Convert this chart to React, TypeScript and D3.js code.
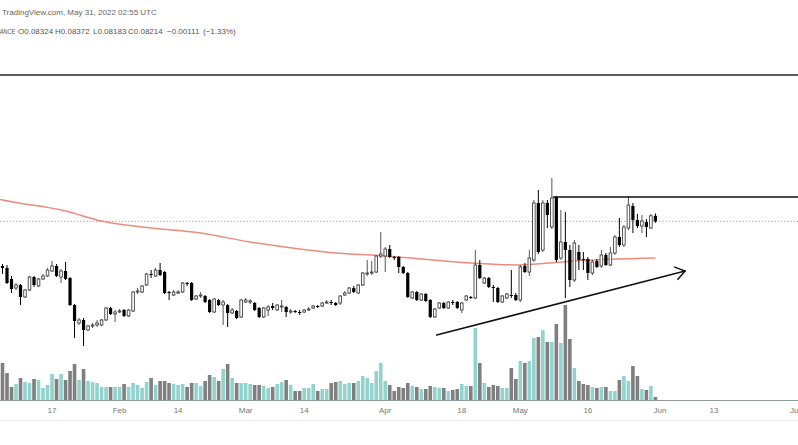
import React from 'react';
import * as d3 from 'd3';

// ---------- data (daily, starting 2022-01-06) ----------
const START_DATE = '2022-01-06';

const openP = [
  0.0732, 0.0728, 0.0706, 0.0688, 0.0694, 0.0670, 0.0684, 0.0710, 0.0692, 0.0706,
  0.0712, 0.0722, 0.0732, 0.0710, 0.0722, 0.0708, 0.0654, 0.0618, 0.0624, 0.0604,
  0.0612, 0.0614, 0.0614, 0.0624, 0.0648, 0.0636, 0.0640, 0.0644, 0.0632, 0.0642,
  0.0680, 0.0680, 0.0694, 0.0716, 0.0712, 0.0724, 0.0720, 0.0680, 0.0674, 0.0678,
  0.0680, 0.0698, 0.0698, 0.0666, 0.0672, 0.0672, 0.0664, 0.0640, 0.0664, 0.0654,
  0.0654, 0.0638, 0.0642, 0.0630, 0.0660, 0.0660, 0.0658, 0.0648, 0.0630, 0.0644,
  0.0652, 0.0644, 0.0650, 0.0650, 0.0640, 0.0642, 0.0640, 0.0640, 0.0644, 0.0648,
  0.0652, 0.0652, 0.0658, 0.0660, 0.0658, 0.0658, 0.0674, 0.0678, 0.0688, 0.0678,
  0.0694, 0.0716, 0.0718, 0.0720, 0.0752, 0.0752, 0.0766, 0.0750, 0.0750, 0.0730,
  0.0718, 0.0668, 0.0680, 0.0664, 0.0676, 0.0664, 0.0630, 0.0648, 0.0658, 0.0648,
  0.0660, 0.0660, 0.0644, 0.0664, 0.0670, 0.0668, 0.0734, 0.0698, 0.0708, 0.0690,
  0.0688, 0.0660, 0.0668, 0.0674, 0.0674, 0.0664, 0.0732, 0.0720, 0.0744, 0.0858,
  0.0764, 0.0858, 0.0810, 0.0870, 0.0748, 0.0780, 0.0764, 0.0704, 0.0760, 0.0746,
  0.0746, 0.0718, 0.0742, 0.0732, 0.0754, 0.0734, 0.0758, 0.0790, 0.0774, 0.0808,
  0.0852, 0.0824, 0.0812, 0.0820, 0.0808, 0.08324,
];

const highP = [
  0.0736, 0.0734, 0.0712, 0.0698, 0.0696, 0.0686, 0.0712, 0.0712, 0.0708, 0.0716,
  0.0728, 0.0742, 0.0736, 0.0726, 0.0740, 0.0710, 0.0656, 0.0628, 0.0628, 0.0614,
  0.0618, 0.0624, 0.0626, 0.0650, 0.0650, 0.0644, 0.0646, 0.0646, 0.0646, 0.0682,
  0.0688, 0.0694, 0.0718, 0.0724, 0.0728, 0.0738, 0.0722, 0.0682, 0.0684, 0.0684,
  0.0700, 0.0700, 0.0700, 0.0674, 0.0680, 0.0674, 0.0666, 0.0668, 0.0666, 0.0664,
  0.0656, 0.0648, 0.0644, 0.0666, 0.0668, 0.0666, 0.0660, 0.0650, 0.0650, 0.0654,
  0.0658, 0.0656, 0.0664, 0.0652, 0.0646, 0.0644, 0.0644, 0.0646, 0.0650, 0.0654,
  0.0654, 0.0660, 0.0664, 0.0664, 0.0660, 0.0674, 0.0682, 0.0690, 0.0692, 0.0696,
  0.0720, 0.0744, 0.0742, 0.0754, 0.0800, 0.0770, 0.0774, 0.0752, 0.0752, 0.0732,
  0.0720, 0.0682, 0.0682, 0.0678, 0.0678, 0.0666, 0.0648, 0.0660, 0.0660, 0.0662,
  0.0664, 0.0662, 0.0660, 0.0674, 0.0672, 0.0764, 0.0744, 0.0710, 0.0710, 0.0694,
  0.0690, 0.0674, 0.0678, 0.0724, 0.0678, 0.0734, 0.0738, 0.0764, 0.0864, 0.0884,
  0.0864, 0.0864, 0.0908, 0.0872, 0.0844, 0.0840, 0.0774, 0.0784, 0.0774, 0.0760,
  0.0750, 0.0744, 0.0746, 0.0764, 0.0758, 0.0770, 0.0794, 0.0828, 0.0814, 0.0872,
  0.0858, 0.0836, 0.0834, 0.0826, 0.0836, 0.08372,
];

const lowP = [
  0.0716, 0.0696, 0.0678, 0.0684, 0.0654, 0.0668, 0.0682, 0.0690, 0.0690, 0.0704,
  0.0710, 0.0720, 0.0710, 0.0698, 0.0704, 0.0652, 0.0588, 0.0614, 0.0572, 0.0602,
  0.0608, 0.0610, 0.0612, 0.0622, 0.0634, 0.0620, 0.0638, 0.0630, 0.0630, 0.0640,
  0.0676, 0.0678, 0.0692, 0.0708, 0.0710, 0.0712, 0.0676, 0.0664, 0.0672, 0.0676,
  0.0678, 0.0692, 0.0662, 0.0664, 0.0668, 0.0658, 0.0638, 0.0638, 0.0652, 0.0614,
  0.0610, 0.0636, 0.0626, 0.0628, 0.0658, 0.0656, 0.0642, 0.0628, 0.0628, 0.0632,
  0.0644, 0.0642, 0.0640, 0.0630, 0.0636, 0.0638, 0.0634, 0.0638, 0.0642, 0.0646,
  0.0648, 0.0650, 0.0656, 0.0654, 0.0652, 0.0654, 0.0672, 0.0676, 0.0678, 0.0676,
  0.0692, 0.0712, 0.0714, 0.0718, 0.0748, 0.0720, 0.0748, 0.0744, 0.0718, 0.0716,
  0.0668, 0.0666, 0.0662, 0.0662, 0.0660, 0.0628, 0.0628, 0.0646, 0.0646, 0.0646,
  0.0654, 0.0646, 0.0638, 0.0662, 0.0666, 0.0666, 0.0706, 0.0696, 0.0688, 0.0660,
  0.0658, 0.0658, 0.0666, 0.0668, 0.0662, 0.0660, 0.0718, 0.0712, 0.0740, 0.0756,
  0.0760, 0.0808, 0.0806, 0.0740, 0.0744, 0.0668, 0.0690, 0.0700, 0.0724, 0.0724,
  0.0704, 0.0714, 0.0728, 0.0728, 0.0732, 0.0732, 0.0754, 0.0770, 0.0770, 0.0804,
  0.0798, 0.0808, 0.0798, 0.0790, 0.0806, 0.08183,
];

const closeP = [
  0.0728, 0.0698, 0.0686, 0.0694, 0.0670, 0.0684, 0.0710, 0.0694, 0.0706, 0.0712,
  0.0724, 0.0732, 0.0712, 0.0722, 0.0706, 0.0654, 0.0622, 0.0624, 0.0604, 0.0612,
  0.0614, 0.0618, 0.0624, 0.0648, 0.0636, 0.0640, 0.0642, 0.0632, 0.0644, 0.0680,
  0.0682, 0.0692, 0.0716, 0.0714, 0.0724, 0.0714, 0.0678, 0.0678, 0.0680, 0.0680,
  0.0698, 0.0696, 0.0664, 0.0672, 0.0674, 0.0660, 0.0640, 0.0666, 0.0654, 0.0660,
  0.0638, 0.0644, 0.0628, 0.0664, 0.0664, 0.0662, 0.0644, 0.0630, 0.0648, 0.0650,
  0.0648, 0.0654, 0.0652, 0.0640, 0.0642, 0.0640, 0.0638, 0.0644, 0.0646, 0.0652,
  0.0650, 0.0658, 0.0660, 0.0658, 0.0654, 0.0672, 0.0678, 0.0688, 0.0680, 0.0694,
  0.0718, 0.0718, 0.0720, 0.0752, 0.0756, 0.0766, 0.0750, 0.0748, 0.0730, 0.0718,
  0.0670, 0.0680, 0.0664, 0.0676, 0.0662, 0.0630, 0.0646, 0.0658, 0.0648, 0.0660,
  0.0658, 0.0648, 0.0658, 0.0672, 0.0668, 0.0734, 0.0708, 0.0708, 0.0690, 0.0688,
  0.0660, 0.0672, 0.0676, 0.0672, 0.0664, 0.0730, 0.0720, 0.0748, 0.0858, 0.0760,
  0.0858, 0.0834, 0.0868, 0.0744, 0.0780, 0.0764, 0.0704, 0.0778, 0.0744, 0.0744,
  0.0718, 0.0740, 0.0730, 0.0754, 0.0734, 0.0758, 0.0790, 0.0774, 0.0810, 0.0854,
  0.0824, 0.0812, 0.0822, 0.0810, 0.08325, 0.08214,
];

const volume = [
  3.7, 2.7, 1.3, 1.6, 2.2, 1.8, 1.7, 2.1, 2.0, 1.2,
  1.5, 2.6, 2.1, 2.6, 2.0, 2.9, 3.6, 2.0, 3.1, 1.9,
  1.8, 1.7, 1.3, 1.3, 1.3, 1.3, 1.3, 1.6, 1.3, 1.7,
  1.5, 1.2, 1.8, 2.2, 1.5, 1.9, 1.9, 1.7, 1.6, 1.5,
  1.6, 1.3, 1.7, 1.7, 1.4, 1.9, 2.5, 2.3, 1.9, 3.1,
  3.6, 2.2, 1.7, 1.7, 1.7, 1.6, 1.5, 1.5, 1.4, 1.2,
  1.3, 1.6, 1.8, 2.0, 1.5, 0.9, 0.9, 1.2, 1.2, 1.6,
  0.9, 1.1, 1.1, 1.7, 1.8, 1.9, 1.6, 1.7, 1.7, 1.9,
  2.4, 2.2, 1.7, 2.9, 3.7, 1.9, 1.5, 0.9, 1.3, 1.2,
  1.7, 1.4, 1.3, 1.1, 1.1, 1.4, 1.3, 1.2, 1.2, 0.9,
  1.0, 1.1, 1.6, 1.4, 1.4, 7.2, 3.7, 1.7, 1.3, 1.5,
  1.4, 1.2, 1.2, 3.2, 2.1, 3.9, 3.7, 3.9, 6.2, 6.3,
  7.0, 5.8, 5.8, 7.6, 5.7, 9.5, 6.1, 3.2, 1.9, 1.6,
  1.5, 1.3, 1.2, 1.3, 1.3, 0.9, 0.9, 2.0, 2.4, 1.9,
  3.4, 2.4, 1.1, 1.0, 1.4, 0.3,
];

// moving average
const maDates = [
  '2022-01-05', '2022-01-06', '2022-01-20', '2022-01-28', '2022-02-06', '2022-02-19',
  '2022-03-02', '2022-03-13', '2022-03-21', '2022-03-29', '2022-04-04', '2022-04-20',
  '2022-05-01', '2022-05-06', '2022-05-13', '2022-05-31',
];
const maValues = [
  0.0866, 0.0864, 0.0842, 0.0822, 0.0810, 0.0798,
  0.0780, 0.0766, 0.0758, 0.0754, 0.0750, 0.0738,
  0.0734, 0.0737, 0.0742, 0.0748,
];

// x axis ticks
const tickDates = [
  '2022-01-17', '2022-02-01', '2022-02-14', '2022-03-01', '2022-03-14', '2022-04-01',
  '2022-04-18', '2022-05-01', '2022-05-16', '2022-06-01', '2022-06-13', '2022-07-01',
];
const tickLabels = ['17', 'Feb', '14', 'Mar', '14', 'Apr', '18', 'May', '16', 'Jun', '13', 'Jul'];

// drawings
const trendDates = ['2022-04-12T10:00:00Z', '2022-06-06T14:00:00Z'];
const trendPrices = [0.0594, 0.0722];
const resistanceDates = ['2022-05-08T06:00:00Z', '2022-07-10T00:00:00Z'];
const resistancePrice = 0.087;
const topLinePrice = 0.1114;

const headerTitle = 'TradingView.com, May 31, 2022 02:55 UTC';
const symbolTail = 'ANCE';

const DAY = 86400000;
const utc = (s: string) => new Date(s.length <= 10 ? s + 'T00:00:00Z' : s);

export default function App() {
  const W = 798;
  const H = 445;
  const t0 = utc(START_DATE).getTime();
  const dates = closeP.map((_, i) => new Date(t0 + i * DAY));

  const x = d3.scaleUtc().domain([utc('2022-01-06'), utc('2022-07-01')]).range([2.5, 795]);
  const y = d3.scaleLinear().domain([0.05, 0.1]).range([382, 132]);
  const yv = d3.scaleLinear().domain([0, 10]).range([400, 300]);

  const maPts: [Date, number][] = maDates.map((d, i) => [utc(d), maValues[i]]);
  const maPath = d3
    .line<[Date, number]>()
    .x((d) => x(d[0]))
    .y((d) => y(d[1]))
    .curve(d3.curveMonotoneX)(maPts) as string;

  const n = closeP.length;
  const last = n - 1;
  const chg = closeP[last] - closeP[last - 1];
  const pct = (chg / closeP[last - 1]) * 100;
  const fmtSigned = (v: number, digits: number) => (v < 0 ? '\u2212' : '+') + Math.abs(v).toFixed(digits);

  const headerParts = [
    { t: 'O' + openP[last].toFixed(5), x: 18 },
    { t: 'H' + highP[last].toFixed(5), x: 55 },
    { t: 'L' + lowP[last].toFixed(5), x: 93 },
    { t: 'C' + closeP[last].toFixed(5), x: 128 },
    { t: fmtSigned(chg, 5), x: 167 },
    { t: '(' + fmtSigned(pct, 2) + '%)', x: 203 },
  ];

  // trend arrow geometry
  const tx0 = x(utc(trendDates[0]));
  const ty0 = y(trendPrices[0]);
  const tx1 = x(utc(trendDates[1]));
  const ty1 = y(trendPrices[1]);
  const ang = Math.atan2(ty0 - ty1, tx0 - tx1);
  const al = 11;
  const a1 = ang + (35 * Math.PI) / 180;
  const a2 = ang - (35 * Math.PI) / 180;

  const font = "'Liberation Sans', Arial, sans-serif";

  return (
    <svg
      width={W}
      height={H}
      viewBox={`0 0 ${W} ${H}`}
      style={{ position: 'absolute', left: 0, top: 0, background: '#fff' }}
    >
      <rect x={0} y={0} width={W} height={H} fill="#fff" />

      {/* header */}
      <text x={2} y={14.5} fontFamily={font} fontSize={8} fill="#666">
        {headerTitle}
      </text>
      <text
        x={0}
        y={33.5}
        fontFamily={font}
        fontSize={8}
        fill="#555"
        textLength={15}
        lengthAdjust="spacingAndGlyphs"
      >
        {symbolTail}
      </text>
      {headerParts.map((p, i) => (
        <text key={i} x={p.x} y={33.5} fontFamily={font} fontSize={8} fill="#555">
          {p.t}
        </text>
      ))}

      {/* top horizontal drawing */}
      <line x1={0} x2={W} y1={y(topLinePrice)} y2={y(topLinePrice)} stroke="#5c5c5c" strokeWidth={2} />

      {/* last price dotted line */}
      <line
        x1={0}
        x2={W}
        y1={y(closeP[last])}
        y2={y(closeP[last])}
        stroke="#9a9a9a"
        strokeWidth={1}
        strokeDasharray="1.2 2"
      />

      {/* volume */}
      <g>
        {dates.map((d, i) => {
          const up = closeP[i] >= openP[i];
          const cx = x(d);
          return (
            <rect
              key={i}
              x={cx - 1.8}
              width={3.6}
              y={yv(volume[i])}
              height={yv(0) - yv(volume[i])}
              fill={up ? '#93d3cd' : '#7f7f7f'}
            />
          );
        })}
      </g>

      {/* moving average */}
      <path d={maPath} fill="none" stroke="#ee8b7d" strokeWidth={1.5} />

      {/* candles */}
      <g>
        {dates.map((d, i) => {
          const o = openP[i];
          const c = closeP[i];
          const hi = Math.max(highP[i], o, c);
          const lo = Math.min(lowP[i], o, c);
          const up = c >= o;
          const cx = x(d);
          const top = y(Math.max(o, c));
          const bot = y(Math.min(o, c));
          const bh = Math.max(bot - top, 1);
          return (
            <g key={i}>
              <line x1={cx} x2={cx} y1={y(hi)} y2={y(lo)} stroke={up ? '#555' : '#000'} strokeWidth={1} />
              {up ? (
                <rect x={cx - 1.3} width={2.6} y={top} height={bh} fill="#fff" stroke="#444" strokeWidth={0.9} />
              ) : (
                <rect x={cx - 1.6} width={3.2} y={top} height={bh} fill="#000" />
              )}
            </g>
          );
        })}
      </g>

      {/* resistance line */}
      <line
        x1={x(utc(resistanceDates[0]))}
        x2={x(utc(resistanceDates[1]))}
        y1={y(resistancePrice)}
        y2={y(resistancePrice)}
        stroke="#111"
        strokeWidth={1.5}
      />

      {/* trend line with arrow */}
      <g stroke="#111" strokeWidth={1.5} fill="none" strokeLinecap="round">
        <line x1={tx0} y1={ty0} x2={tx1} y2={ty1} />
        <polyline
          points={`${tx1 + al * Math.cos(a1)},${ty1 + al * Math.sin(a1)} ${tx1},${ty1} ${tx1 + al * Math.cos(a2)},${ty1 + al * Math.sin(a2)}`}
        />
      </g>

      {/* x axis */}
      <line x1={0} x2={W} y1={400.5} y2={400.5} stroke="#8e9a98" strokeWidth={1} />
      <g fontFamily={font} fontSize={8} fill="#777" textAnchor="middle">
        {tickDates.map((t, i) => (
          <text key={i} x={x(utc(t))} y={413}>
            {tickLabels[i]}
          </text>
        ))}
      </g>
      <line x1={0} x2={W} y1={420.5} y2={420.5} stroke="#ececec" strokeWidth={1} />
    </svg>
  );
}
